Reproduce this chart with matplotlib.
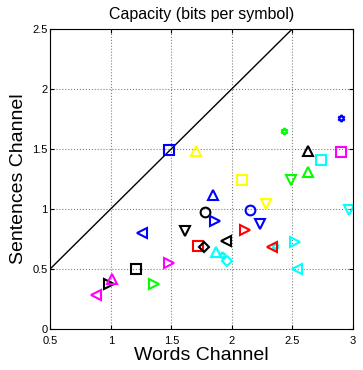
import matplotlib
matplotlib.use("Agg")
import matplotlib.pyplot as plt

plt.rcParams['font.family'] = ['Liberation Sans', 'DejaVu Sans']

# valeurs
words = [1.48, 1.70, 2.90, 2.43, 2.63, 2.74, 2.90, 2.63, 2.49, 2.08,
         2.28, 2.97, 1.84, 1.78, 2.15, 1.86, 2.23, 2.11, 1.61, 1.26,
         1.95, 1.72, 1.77, 1.87, 1.92, 1.96, 2.36, 2.33, 2.52, 2.54,
         1.21, 1.48, 1.36, 0.98, 1.01, 0.88]
sentences = [1.49, 1.48, 1.76, 1.65, 1.48, 1.41, 1.47, 1.31, 1.24, 1.24,
             1.04, 0.99, 1.11, 0.97, 0.99, 0.90, 0.87, 0.82, 0.81, 0.80,
             0.73, 0.69, 0.68, 0.64, 0.61, 0.56, 0.69, 0.68, 0.72, 0.50,
             0.50, 0.55, 0.37, 0.37, 0.41, 0.28]
colors = ['b', 'y', 'b', 'g', 'k', 'c', 'm', 'g', 'g', 'y',
          'y', 'c', 'b', 'k', 'b', 'b', 'b', 'r', 'k', 'b',
          'k', 'r', 'k', 'c', 'c', 'c', 'c', 'r', 'c', 'c',
          'k', 'm', 'g', 'k', 'm', 'm']
markers = ['s', '^', 'h', 'h', '^', 's', 's', '^', 'v', 's',
           'v', 'v', '^', 'o', 'o', '>', 'v', '>', 'v', '<',
           '<', 's', 'D', '^', 'h', 'D', 'h', '<', '>', '<',
           's', '>', '>', '>', '^', '<']

# couleurs pures comme dans MATLAB
rgb = {'b': (0, 0, 1), 'g': (0, 1, 0), 'r': (1, 0, 0), 'c': (0, 1, 1),
       'm': (1, 0, 1), 'y': (1, 1, 0), 'k': (0, 0, 0)}
star6 = (6, 1, 0)

fig = plt.figure(figsize=(3.63, 3.70), dpi=100)
ax = fig.add_axes([0.139, 0.112, 0.833, 0.810])

ax.plot([0.5, 2.5], [0.5, 2.5], color='k', lw=1)

for xv, yv, c, m in zip(words, sentences, colors, markers):
    mk = star6 if m == 'h' else m
    ms = 5 if m == 'h' else (5.5 if m == 'D' else 7)
    ax.plot(xv, yv, linestyle='none', marker=mk, markersize=ms,
            markerfacecolor='none', markeredgecolor=rgb[c], markeredgewidth=1.5)

ax.set_xlim(0.5, 3)
ax.set_ylim(0, 2.5)
ax.set_xticks([0.5, 1, 1.5, 2, 2.5, 3])
ax.set_xticklabels(['0.5', '1', '1.5', '2', '2.5', '3'])
ax.set_yticks([0, 0.5, 1, 1.5, 2, 2.5])
ax.set_yticklabels(['0', '0.5', '1', '1.5', '2', '2.5'])
ax.grid(True, linestyle=':', color='gray', lw=0.8)
ax.tick_params(direction='in', labelsize=8, length=3, top=True, right=True,
               pad=2)
ax.tick_params(axis='x', pad=5)
for s in ax.spines.values():
    s.set_linewidth(0.8)

ax.set_title('Capacity (bits per symbol)', fontsize=11.5, pad=7)
ax.set_xlabel('Words Channel', fontsize=14, labelpad=1)
ax.set_ylabel('Sentences Channel', fontsize=14, labelpad=4)

fig.savefig('out.png', dpi=100)
